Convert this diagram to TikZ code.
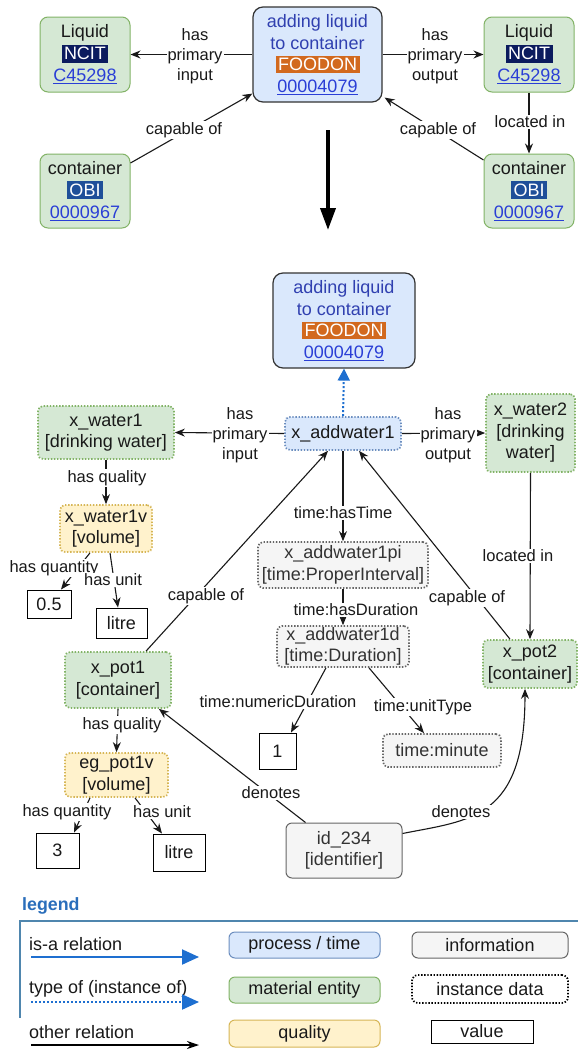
\documentclass[tikz,border=0pt]{standalone}
\usepackage{fontspec}
\setmainfont{Liberation Sans}
\usetikzlibrary{arrows.meta,calc}
\definecolor{gfill}{HTML}{D5E8D4}
\definecolor{gline}{HTML}{82B366}
\definecolor{bfill}{HTML}{DAE8FC}
\definecolor{bline}{HTML}{6C8EBF}
\definecolor{yfill}{HTML}{FFF2CC}
\definecolor{yline}{HTML}{D6B656}
\definecolor{gryfill}{HTML}{F5F5F5}
\definecolor{gryline}{HTML}{666666}
\definecolor{linkblue}{HTML}{2A3ED6}
\definecolor{procblue}{HTML}{3040B0}
\definecolor{ncit}{HTML}{0B1B5E}
\definecolor{obi}{HTML}{1F4F99}
\definecolor{foodon}{HTML}{D2691E}
\definecolor{isablue}{HTML}{1E6FD0}
\definecolor{legline}{HTML}{4F86AE}
\definecolor{legtext}{HTML}{2A6EBB}
\newcommand{\tagbox}[2]{{\setlength{\fboxsep}{2.5pt}\colorbox{#1}{\color{white}#2}}}
\newcommand{\lnk}[1]{{\color{linkblue}\underline{#1}}}
\tikzset{
  every node/.style={font=\fontsize{18}{21.5}\selectfont, align=center, inner sep=1pt, text=black!90},
  classg/.style={draw=gline, fill=gfill, rounded corners=8pt, line width=1pt, minimum width=90pt, minimum height=75pt, font=\fontsize{18}{22}\selectfont},
  proc/.style={draw=black!80, fill=bfill, rounded corners=10pt, line width=1.2pt, text=procblue},
  inst/.style={rounded corners=5pt, line width=1.7pt, dash pattern=on 1.4pt off 1.7pt},
  instg/.style={inst, draw=gline, fill=gfill},
  instb/.style={inst, draw=bline, fill=bfill},
  insty/.style={inst, draw=yline, fill=yfill},
  instgr/.style={inst, draw=gryline, fill=gryfill, text=black!80},
  valbox/.style={draw=black, line width=1pt, fill=white},
  lbl/.style={font=\fontsize{16.5}{20}\selectfont, fill=white, inner sep=1pt},
  rel/.style={draw=black!90, line width=1.1pt, -{Stealth[length=10pt,width=8pt]}},
  isadot/.style={draw=isablue, line width=2pt, dash pattern=on 2pt off 2pt, -{Triangle[length=12pt,width=12pt]}},
  legbox/.style={rounded corners=6pt, line width=1pt, minimum height=26pt},
  legtxt/.style={anchor=west, inner sep=0pt},
}
\begin{document}
\begin{tikzpicture}[x=1pt,y=-1pt]
\useasboundingbox (0,0) rectangle (578,1050);
\fill[white] (0,0) rectangle (578,1050);

% ---------- top part ----------
\node[classg] (L1) at (85,54.5) {Liquid\\\tagbox{ncit}{NCIT}\\\lnk{C45298}};
\node[proc, minimum width=129pt, minimum height=95pt] (P0) at (317.5,54.5) {adding liquid\\to container\\\tagbox{foodon}{FOODON}\\\lnk{00004079}};
\node[classg] (L2) at (529,54.5) {Liquid\\\tagbox{ncit}{NCIT}\\\lnk{C45298}};
\node[classg, minimum height=74pt] (C1) at (85,191) {container\\\tagbox{obi}{OBI}\\\lnk{0000967}};
\node[classg, minimum height=74pt] (C2) at (529,191) {container\\\tagbox{obi}{OBI}\\\lnk{0000967}};

\draw[rel] (P0.west) -- (L1.east);
\draw[rel] (P0.east) -- (L2.west);
\draw[rel] ([yshift=28pt]C1.east) -- ([yshift=9pt]P0.south west);
\draw[rel] ([yshift=31pt]C2.west) -- ([yshift=5pt,xshift=2pt]P0.south east);
\draw[rel] (L2.south) -- (C2.north);

\node[lbl] (t1) at (195,56) {has\\primary\\input};
\node[lbl] (t2) at (435,56) {has\\primary\\output};
\node[lbl] (t3) at (184,130) {capable of};
\node[lbl] (t4) at (438,130) {capable of};
\node[lbl] (t5) at (530,122) {located in};

\coordinate (bigA) at (328,130);
\coordinate (bigB) at (328,230);
\draw[black, line width=3.8pt, -{Triangle[length=22pt,width=15pt]}] (bigA) -- (bigB);

% ---------- instance part ----------
\node[proc, minimum width=142pt, minimum height=95pt] (P1) at (344,320.5) {adding liquid\\to container\\\tagbox{foodon}{FOODON}\\\lnk{00004079}};
\node[instb, minimum width=116pt, minimum height=33pt] (A1) at (343,433.5) {x\_addwater1};
\node[instg, minimum width=136pt, minimum height=53pt] (W1) at (106,432.5) {x\_water1\\{[drinking water]}};
\node[instg, minimum width=89pt, minimum height=78pt] (W2) at (530.5,433) {x\_water2\\{[drinking}\\water{]}};
\node[insty, minimum width=92pt, minimum height=47pt] (W1v) at (106,528.5) {x\_water1v\\{[volume]}};
\node[instgr, minimum width=170pt, minimum height=46pt] (PI) at (343,565) {x\_addwater1pi\\{[time:ProperInterval]}};
\node[instgr, minimum width=132pt, minimum height=41pt] (D) at (343,646.5) {x\_addwater1d\\{[time:Duration]}};
\node[valbox, minimum width=44pt, minimum height=28pt] (V05) at (49,604) {0.5};
\node[valbox, minimum width=51pt, minimum height=30pt] (Lt1) at (121.5,623) {litre};
\node[instg, minimum width=106pt, minimum height=56pt] (Pot1) at (118,680) {x\_pot1\\{[container]}};
\node[instg, minimum width=94pt, minimum height=48pt] (Pot2) at (530,664) {x\_pot2\\{[container]}};
\node[insty, minimum width=103pt, minimum height=44pt] (Pot1v) at (116.5,775) {eg\_pot1v\\{[volume]}};
\node[valbox, minimum width=43pt, minimum height=35pt] (V3) at (57.5,850.5) {3};
\node[valbox, minimum width=52pt, minimum height=37pt] (Lt2) at (179,852.5) {litre};
\node[valbox, minimum width=37pt, minimum height=36pt] (V1) at (277.5,751) {1};
\node[instgr, minimum width=118pt, minimum height=33pt] (TM) at (442,750.5) {time:minute};
\node[draw=gryline, fill=gryfill, rounded corners=6pt, line width=1pt, minimum width=116pt, minimum height=55pt, text=black!80] (ID) at (344,850.5) {id\_234\\{[identifier]}};

\draw[rel] (A1.west) -- (W1.east);
\draw[rel] (A1.east) -- (W2.west);
\draw[isadot] (A1.north) -- (P1.south);
\draw[rel] (W1.south) -- (W1v.north);
\draw[rel] ([xshift=-16pt]W1v.south) -- ([xshift=12pt]V05.north);
\draw[rel] ([xshift=4pt]W1v.south) -- ([xshift=-3.5pt]Lt1.north);
\draw[rel] ([xshift=28pt]Pot1.north) -- ([xshift=-15pt]A1.south);
\draw[rel] ([xshift=-20pt]Pot2.north) -- ([xshift=16pt]A1.south);
\draw[rel] (A1.south) -- (PI.north);
\draw[rel] (W2.south) -- (Pot2.north);
\draw[rel] (PI.south) -- (D.north);
\draw[rel] ([xshift=-17pt]D.south) -- ([xshift=13.5pt]V1.north);
\draw[rel] ([xshift=26pt]D.south) -- ([xshift=-18pt]TM.north);
\draw[rel] (Pot1.south) -- (Pot1v.north);
\draw[rel] ([xshift=-26.5pt]Pot1v.south) -- ([xshift=16.5pt]V3.north);
\draw[rel] ([xshift=18.5pt]Pot1v.south) -- ([xshift=-17pt]Lt2.north);
\draw[rel] ([xshift=20pt]ID.north west) -- ([xshift=-13pt]Pot1.south east);
\draw[rel] ([yshift=17pt]ID.east) .. controls (470,820) and (525,820) .. ([xshift=-5pt]Pot2.south);

\node[lbl] (m1) at (240,435) {has\\primary\\input};
\node[lbl] (m2) at (448,435) {has\\primary\\output};
\node[lbl] (m3) at (107,478) {has quality};
\node[lbl] (m4) at (343,513) {time:hasTime};
\node[lbl] (m5) at (54,568) {has quantity};
\node[lbl] (m6) at (113,580) {has unit};
\node[lbl] (m7) at (206,596) {capable of};
\node[lbl] (m8) at (467,598) {capable of};
\node[lbl] (m9) at (518,556) {located in};
\node[lbl] (m10) at (356,610) {time:hasDuration};
\node[lbl] (m11) at (278,702) {time:numericDuration};
\node[lbl] (m12) at (423,707) {time:unitType};
\node[lbl] (m13) at (122,725) {has quality};
\node[lbl] (m14) at (271,793) {denotes};
\node[lbl] (m15) at (67,812) {has quantity};
\node[lbl] (m16) at (162,812) {has unit};
\node[lbl] (m17) at (461,812) {denotes};

% ---------- legend ----------
\node[legtxt, text=legtext, font=\bfseries\fontsize{17.8}{20}\selectfont] (lgT) at (22,906) {legend};
\coordinate (lgA) at (20,921);
\coordinate (lgB) at (578,921);
\coordinate (lgC) at (20,1018);
\draw[legline, line width=1.2pt] (lgB) -- (lgA) -- (lgC);

\node[legtxt] (lg1) at (29,944) {is-a relation};
\node[legtxt] (lg2) at (29,989) {type of (instance of)};
\node[legtxt] (lg3) at (29,1032) {other relation};
\coordinate (a1s) at (31,957);  \coordinate (a1e) at (199,957);
\coordinate (a2s) at (31,1002); \coordinate (a2e) at (199,1002);
\coordinate (a3s) at (31,1045); \coordinate (a3e) at (199,1045);
\draw[isablue, line width=2pt, -{Triangle[length=17pt,width=15pt]}] (a1s) -- (a1e);
\draw[isablue, line width=2pt, dash pattern=on 2pt off 2pt, -{Triangle[length=17pt,width=15pt]}] (a2s) -- (a2e);
\draw[black, line width=1.2pt, -{Stealth[length=12pt,width=8pt]}] (a3s) -- (a3e);

\node[legbox, draw=bline, fill=bfill, minimum width=151pt] (lb1) at (304.5,945) {process / time};
\node[legbox, draw=gryline, fill=gryfill, minimum width=156pt] (lb2) at (490,945) {information};
\node[legbox, draw=gline, fill=gfill, minimum width=151pt] (lb3) at (304.5,990) {material entity};
\node[legbox, draw=black, fill=white, line width=1.7pt, dash pattern=on 1.4pt off 1.7pt, minimum width=156pt, minimum height=28pt] (lb4) at (490,989) {instance data};
\node[legbox, draw=yline, fill=yfill, minimum width=151pt, minimum height=27pt] (lb5) at (304.5,1033.5) {quality};
\node[valbox, minimum width=102pt, minimum height=23pt] (lb6) at (482,1031.5) {value};
\end{tikzpicture}
\end{document}
